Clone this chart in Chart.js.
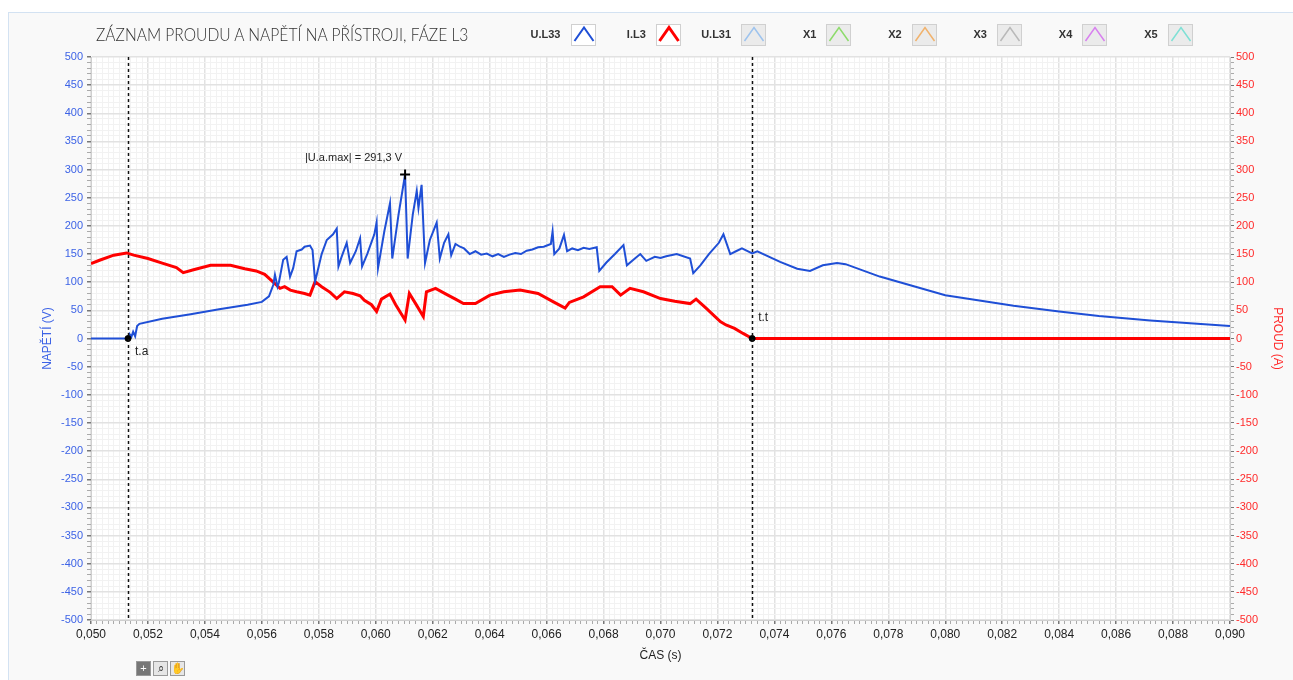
<!DOCTYPE html>
<html>
<head>
<meta charset="utf-8">
<script src="https://cdn.jsdelivr.net/npm/chart.js@4.4.1/dist/chart.umd.min.js"></script>
<style>
  body { margin: 0; background: #fff; font-family: "Liberation Sans", Arial, sans-serif; }
  #wrap { position: relative; width: 1293px; height: 680px; overflow: hidden; }
  #panel { position: absolute; left: 8px; top: 12px; right: 0; bottom: 0; background: #f9f9f9;
           border-left: 1px solid #d3e2f2; border-top: 1px solid #d3e2f2; }
  #chart { position: absolute; left: 0; top: 0; }
  #title { position: absolute; left: 96px; top: 23px; font: 300 18px Lato, "Open Sans", sans-serif; color: #333;
           white-space: nowrap; transform: scaleX(0.867); transform-origin: 0 0; }
  .leg-name { position: absolute; top: 28px; font: bold 11px "Liberation Sans Narrow", "Liberation Sans", sans-serif; color: #333; text-align: right; width: 60px; }
  .leg-box { position: absolute; top: 24px; width: 25px; height: 22px; box-sizing: border-box; border: 1px solid #d0d0d0; background: #ebebeb; }
  #tools { position: absolute; left: 136px; top: 658px; }
  .tool { display: inline-block; width: 15px; height: 15px; margin-right: 2px; box-sizing: border-box;
          border: 1px solid #9a9a9a; background: #e6e6e6; font: 11px "Liberation Sans"; line-height: 13px; text-align: center; color: #333; }
</style>
</head>
<body>
<div id="wrap">
  <div id="panel"></div>
  <canvas id="chart" width="1293" height="680"></canvas>
  <div id="title">ZÁZNAM PROUDU A NAPĚTÍ NA PŘÍSTROJI, FÁZE L3</div>
  <div id="legend"></div>
  <div id="tools"><span class="tool" style="background:#777;color:#fff">+</span><span class="tool">⌕</span><span class="tool">✋</span></div>
</div>
<script>
// U.L33 - napeti (V)
const uTime = [0.0500, 0.0513, 0.05135, 0.05142, 0.05148, 0.05155, 0.05162, 0.0517, 0.0525, 0.0535, 0.0545, 0.0555,
  0.0560, 0.05625, 0.0564, 0.05646, 0.05655, 0.0566, 0.05675, 0.05687, 0.05699, 0.0571, 0.05722, 0.0574, 0.0575, 0.05769,
  0.05778, 0.05787, 0.0581, 0.05828, 0.0585, 0.05863, 0.05869, 0.0588, 0.05898, 0.0591, 0.0593, 0.05945, 0.05952,
  0.0597, 0.05995, 0.06003, 0.06008, 0.0603, 0.0605, 0.06058, 0.0608, 0.06103, 0.06112, 0.0613, 0.06144, 0.0615,
  0.06161, 0.06173, 0.0619, 0.06214, 0.06225, 0.0624, 0.06255, 0.06265, 0.0628, 0.06296, 0.0631, 0.0633, 0.0635,
  0.0637, 0.0639, 0.0641, 0.0643, 0.0645, 0.0647, 0.0649, 0.0651, 0.0653, 0.0655, 0.0657, 0.0659, 0.06615, 0.06621,
  0.06627, 0.06645, 0.06661, 0.06672, 0.0669, 0.0671, 0.0673, 0.0675, 0.06776, 0.06785, 0.0681, 0.0684, 0.0687, 0.06882,
  0.0691, 0.06929, 0.0695, 0.0698, 0.0700, 0.0702, 0.07057, 0.07104, 0.07115, 0.0714, 0.0717, 0.07205, 0.07221, 0.07245,
  0.07265, 0.07286, 0.07322, 0.0734, 0.0742, 0.0748, 0.07525, 0.0757, 0.0762, 0.0765, 0.0777, 0.0800, 0.0824, 0.0840,
  0.0854, 0.0872, 0.0900];
const uValues = [0, 0, 8, 3, 12, 4, 22, 26, 35, 43, 52, 60,
  65, 75, 95, 113, 92, 100, 140, 145, 110, 125, 155, 158, 163, 165,
  157, 101, 150, 175, 185, 195, 128, 145, 170, 134, 155, 178, 128,
  150, 185, 206, 125, 190, 240, 142, 220, 291.3, 142, 220, 262, 232,
  273, 134, 175, 206, 142, 170, 185, 148, 168, 163, 160, 150, 155,
  149, 151, 146, 150, 145, 149, 152, 150, 156, 158, 162, 163, 168, 190,
  150, 160, 184, 155, 160, 157, 161, 159, 162, 120, 135, 150, 166, 130,
  142, 150, 138, 145, 143, 146, 150, 142, 116, 130, 150, 170, 185, 150,
  155, 160, 151, 155, 136, 124, 120, 130, 134, 132, 110, 77, 58, 48,
  40, 32, 22];

// I.L3 - proud (A)
const iTime = [0.0500, 0.0503, 0.0508, 0.05125, 0.0515, 0.0520, 0.0525, 0.0530, 0.05324, 0.0536, 0.0542, 0.0549,
  0.0554, 0.0558, 0.0561, 0.0564, 0.05664, 0.0568, 0.0570, 0.05722, 0.0575, 0.05769, 0.05787, 0.0581, 0.0584,
  0.05863, 0.0589, 0.0592, 0.05945, 0.0596, 0.05985, 0.06003, 0.0602, 0.0605, 0.0607, 0.06103, 0.06118, 0.0614,
  0.06167, 0.06178, 0.0621, 0.0625, 0.0628, 0.06308, 0.0635, 0.06401, 0.0645, 0.06507, 0.0657, 0.06624, 0.06665,
  0.0668, 0.0673, 0.06788, 0.0683, 0.0686, 0.06893, 0.0694, 0.0700, 0.0705, 0.07104, 0.07125, 0.0716, 0.0721,
  0.0723, 0.0726, 0.0729, 0.07322, 0.0900];
const iValues = [133, 139, 148, 152, 148, 142, 134, 126, 117, 122, 130, 130,
  124, 120, 114, 100, 89, 92, 86, 83, 80, 77, 101, 92, 82,
  71, 83, 80, 76, 68, 60, 48, 70, 79, 60, 33, 80, 62,
  39, 83, 89, 78, 70, 62, 62, 77, 83, 86, 80, 65, 54,
  64, 74, 92, 92, 77, 89, 83, 71, 66, 62, 70, 54, 30,
  24, 18, 9, 0, 0];

// kurzory t.a, t.t a |U.a.max|
const cursorNames = ['t.a', 't.t', '|U.a.max| = 291,3 V'];
const cursorTimes = [0.0513, 0.07322, 0.06103];
const cursorValues = [0, 0, 291.3];

const legendNames = ['U.L33', 'I.L3', 'U.L31', 'X1', 'X2', 'X3', 'X4', 'X5'];
const legendColors = ['#1f4fd6', '#ff0000', '#9dc3ee', '#8ddb6b', '#f1b26c', '#b9b9b9', '#d880ef', '#7fe0d5'];

const xTicks = { min: 0.050, max: 0.090, major: 0.002, minor: 0.0002 };
const yTicks = { min: -500, max: 500, major: 50, minor: 10 };

const isMajor = (v, step) => Math.abs(v / step - Math.round(v / step)) < 1e-6;

// legenda nahore
const legend = document.getElementById('legend');
legendNames.forEach((name, i) => {
  const left = 570.5 + 85.3 * i;
  const lbl = document.createElement('div');
  lbl.className = 'leg-name';
  lbl.style.left = (left - 70) + 'px';
  lbl.textContent = name;
  legend.appendChild(lbl);
  const box = document.createElement('div');
  box.className = 'leg-box';
  box.style.left = left + 'px';
  if (i < 2) box.style.background = '#fff';
  const w = i == 1 ? 3 : (i == 0 ? 2 : 1.5);
  box.innerHTML = '<svg width="23" height="20"><polyline points="2.5,16 12,2.5 21.5,16" fill="none" stroke="' +
    legendColors[i] + '" stroke-width="' + w + '"/></svg>';
  legend.appendChild(box);
});

const cursorPlugin = {
  id: 'cursors',
  beforeDraw(chart) {
    const { ctx, chartArea } = chart;
    ctx.save();
    ctx.fillStyle = '#fff';
    ctx.fillRect(chartArea.left, chartArea.top, chartArea.right - chartArea.left, chartArea.bottom - chartArea.top);
    ctx.restore();
  },
  afterDatasetsDraw(chart) {
    const { ctx, chartArea, scales } = chart;
    ctx.save();
    ctx.strokeStyle = '#111';
    ctx.lineWidth = 1.5;
    ctx.setLineDash([3, 3]);
    for (let i = 0; i < 2; i++) {
      const x = Math.round(scales.x.getPixelForValue(cursorTimes[i])) + 0.5;
      ctx.beginPath();
      ctx.moveTo(x, chartArea.top);
      ctx.lineTo(x, chartArea.bottom);
      ctx.stroke();
    }
    ctx.setLineDash([]);
    ctx.fillStyle = '#222';
    ctx.font = '12px "Liberation Sans Narrow", "Liberation Sans", sans-serif';
    ctx.textBaseline = 'middle';
    const px = i => scales.x.getPixelForValue(cursorTimes[i]);
    const py = i => scales.y.getPixelForValue(cursorValues[i]);
    ctx.textAlign = 'left';
    ctx.fillText(cursorNames[0], px(0) + 7, py(0) + 13);
    ctx.fillText(cursorNames[1], px(1) + 6, py(1) - 21);
    ctx.font = '11px "Liberation Sans", sans-serif';
    ctx.textAlign = 'right';
    ctx.fillText(cursorNames[2], px(2) - 3, py(2) - 17);
    ctx.restore();
  }
};

const gridColor = (c, step) => (c.tick && isMajor(c.tick.value, step)) ? '#e2e2e2' : '#f2f2f2';
const gridWidth = (c, step) => (c.tick && isMajor(c.tick.value, step)) ? 1.5 : 1;
const tickColor = (c, step) => (c.tick && isMajor(c.tick.value, step)) ? '#777' : '#aaa';

new Chart(document.getElementById('chart'), {
  type: 'line',
  data: {
    datasets: [
      {
        label: 'kurzory',
        data: cursorTimes.map((t, i) => ({ x: t, y: cursorValues[i] })),
        showLine: false,
        pointStyle: ['circle', 'circle', 'cross'],
        pointRadius: [3, 3, 5],
        pointBackgroundColor: '#000',
        pointBorderColor: '#000',
        pointBorderWidth: [1, 1, 2],
        yAxisID: 'y'
      },
      {
        label: 'U.L33',
        data: uTime.map((t, i) => ({ x: t, y: uValues[i] })),
        borderColor: legendColors[0],
        borderWidth: 2,
        pointRadius: 0,
        tension: 0,
        yAxisID: 'y'
      },
      {
        label: 'I.L3',
        data: iTime.map((t, i) => ({ x: t, y: iValues[i] })),
        borderColor: legendColors[1],
        borderWidth: 3,
        pointRadius: 0,
        tension: 0,
        yAxisID: 'y1'
      }
    ]
  },
  options: {
    responsive: false,
    animation: false,
    layout: { padding: { top: 57, left: 38, right: 8, bottom: 15 } },
    plugins: { legend: { display: false }, tooltip: { enabled: false } },
    scales: {
      x: {
        type: 'linear',
        min: xTicks.min,
        max: xTicks.max,
        afterFit: s => { s.height = 45; },
        border: { color: '#cfcfcf' },
        grid: {
          color: c => gridColor(c, xTicks.major),
          lineWidth: c => gridWidth(c, xTicks.major),
          tickColor: c => tickColor(c, xTicks.major),
          tickLength: 4
        },
        ticks: {
          stepSize: xTicks.minor,
          autoSkip: false,
          maxRotation: 0,
          padding: 3,
          color: '#222',
          font: { family: '"Liberation Sans Narrow", "Liberation Sans", sans-serif', size: 12 },
          callback: v => isMajor(v, xTicks.major) ? v.toFixed(3).replace('.', ',') : ''
        },
        title: { display: true, text: 'ČAS (s)', color: '#222', padding: { top: 2, bottom: 2 },
                 font: { family: '"Liberation Sans", sans-serif', size: 12 } }
      },
      y: {
        position: 'left',
        min: yTicks.min,
        max: yTicks.max,
        afterFit: s => { s.width = 53; },
        border: { color: '#cfcfcf' },
        grid: {
          color: c => gridColor(c, yTicks.major),
          lineWidth: c => gridWidth(c, yTicks.major),
          tickColor: c => tickColor(c, yTicks.major),
          tickLength: 4
        },
        ticks: {
          stepSize: yTicks.minor,
          autoSkip: false,
          padding: 4,
          color: '#3d63e6',
          font: { family: '"Liberation Sans", sans-serif', size: 11 },
          callback: v => isMajor(v, yTicks.major) ? String(Math.round(v)) : ''
        },
        title: { display: true, text: 'NAPĚTÍ (V)', color: '#3d63e6', padding: { top: 2, bottom: 0 },
                 font: { family: '"Liberation Sans", sans-serif', size: 12 } }
      },
      y1: {
        position: 'right',
        min: yTicks.min,
        max: yTicks.max,
        afterFit: s => { s.width = 55; },
        border: { color: '#cfcfcf' },
        grid: {
          drawOnChartArea: false,
          tickColor: c => tickColor(c, yTicks.major),
          tickLength: 4
        },
        ticks: {
          stepSize: yTicks.minor,
          autoSkip: false,
          padding: 2,
          color: '#ff2b2b',
          font: { family: '"Liberation Sans", sans-serif', size: 11 },
          callback: v => isMajor(v, yTicks.major) ? String(Math.round(v)) : ''
        },
        title: { display: true, text: 'PROUD (A)', color: '#ff2b2b', padding: 0,
                 font: { family: '"Liberation Sans", sans-serif', size: 12 } }
      }
    }
  },
  plugins: [cursorPlugin]
});
</script>
</body>
</html>
